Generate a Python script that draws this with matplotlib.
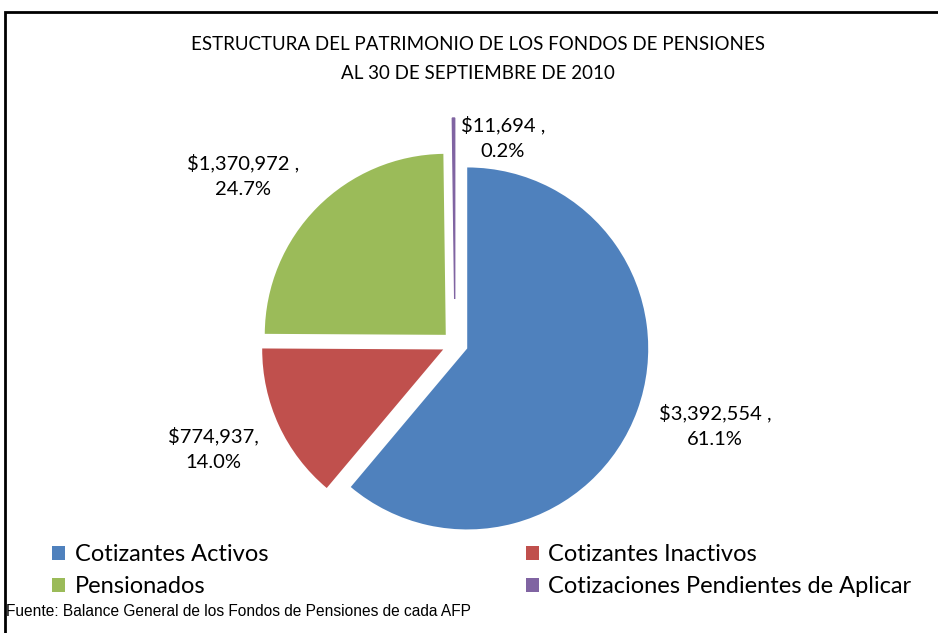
import matplotlib
matplotlib.use("Agg")
import matplotlib.pyplot as plt
from matplotlib.patches import Rectangle, Patch

categories = ["Cotizantes Activos", "Cotizantes Inactivos", "Pensionados",
              "Cotizaciones Pendientes de Aplicar"]
values = [3392554, 774937, 1370972, 11694]
separators = [" ,", ",", " ,", " ,"]
colors = ["#4F81BD", "#C0504D", "#9BBB59", "#8064A2"]

total = sum(values)
labels = [f"${v:,}{s}\n{100 * v / total:.1f}%" for v, s in zip(values, separators)]

W, H = 938, 633
fig = plt.figure(figsize=(W / 100, H / 100), dpi=100)
ax = fig.add_axes([0, 0, 1, 1])

# pie drawn in pixel units so radius / explode are in px
radius = 181
center = (455, H - 344)
wedges, _ = ax.pie(values, colors=colors, startangle=90, counterclock=False,
                   explode=[13, 13, 13, 45], radius=radius, center=center,
                   wedgeprops=dict(linewidth=0))
wedges[3].set_edgecolor(colors[3])
wedges[3].set_linewidth(1)
ax.set_xlim(0, W)
ax.set_ylim(0, H)
ax.set_aspect("equal")
ax.axis("off")

label_pos = [(715, 426), (213, 449), (243, 176), (503, 138)]
for (x, y), txt in zip(label_pos, labels):
    ax.text(x, H - y, txt, ha="center", va="center", fontsize=14.5,
            family="Lato", linespacing=1.6)

fig.text(478 / W, 1 - 59 / H, "ESTRUCTURA DEL PATRIMONIO DE LOS FONDOS DE PENSIONES\nAL 30 DE SEPTIEMBRE DE 2010",
         ha="center", va="center", fontsize=13.5, family="Lato", linespacing=1.8)

# legend filled row-wise like the original
order = [0, 2, 1, 3]
handles = [Patch(facecolor=colors[i], edgecolor="none") for i in order]
fig.legend(handles, [categories[i] for i in order], loc="upper left",
           bbox_to_anchor=(43 / W, 1 - 535 / H), ncol=2, frameon=False,
           prop={"family": "Lato", "size": 17},
           handlelength=0.55, handleheight=0.55, handletextpad=0.4, columnspacing=10.9,
           labelspacing=0.45, borderaxespad=0)

fig.text(6 / W, 1 - 611 / H, "Fuente: Balance General de los Fondos de Pensiones de cada AFP",
         ha="left", va="center", fontsize=11.2,
         family=["Liberation Sans Narrow", "Liberation Sans"])

fig.patches.append(Rectangle((5 / W, -0.1), 1.2, 1 - 12 / H + 0.1, transform=fig.transFigure,
                             fill=False, edgecolor="black", linewidth=2))

fig.savefig("out.png", dpi=100)
